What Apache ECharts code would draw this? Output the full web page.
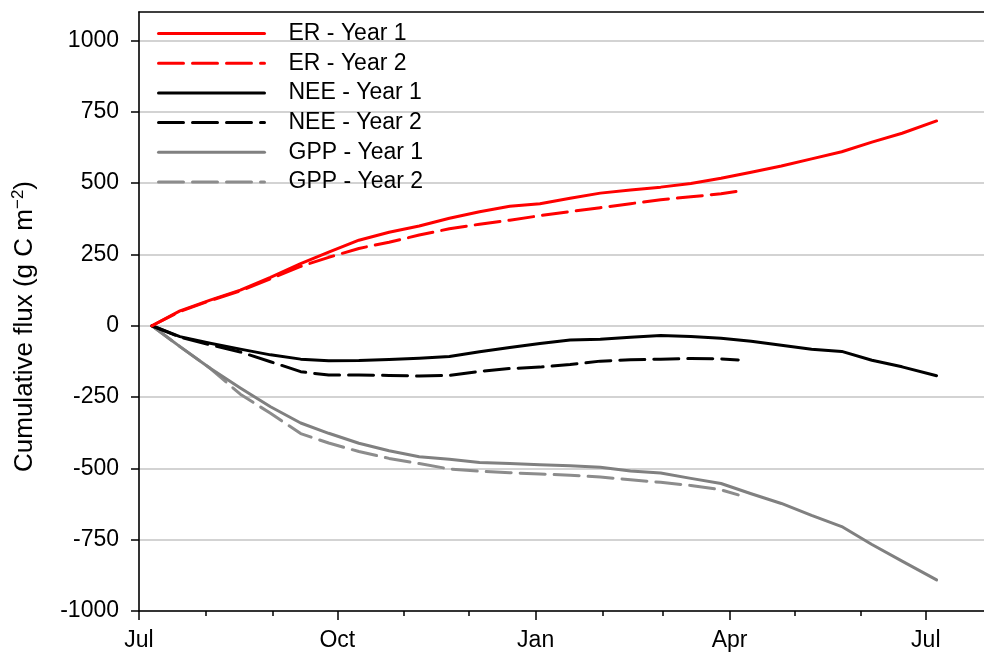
<!DOCTYPE html>
<html>
<head>
<meta charset="utf-8">
<script src="https://cdn.jsdelivr.net/npm/echarts@6/dist/echarts.min.js"></script>
<style>html,body{margin:0;padding:0;background:#fff}#c{width:984px;height:657px}</style>
</head>
<body>
<div id="c"></div>
<script>
// Days since 1 July (non-leap year)
const days1 = [6,19,33,47,61,75,88,102,116,130,144,158,172,186,200,214,228,242,256,270,284,298,312,326,340,354,370];
const days2 = [6,19,33,47,61,75,88,102,116,130,144,158,172,186,200,214,228,242,256,270,278];
const er1  = [0,52,90,125,170,218,258,300,328,350,377,400,419,428,447,465,476,486,499,517,538,560,585,610,644,675,718];
const er2  = [0,50,88,122,165,208,240,271,293,318,340,356,370,386,400,414,428,442,452,463,472];
const nee1 = [0,-38,-61,-82,-102,-117,-123,-122,-118,-114,-108,-91,-76,-62,-50,-47,-40,-34,-38,-44,-54,-68,-82,-90,-121,-144,-175];
const nee2 = [0,-40,-67,-92,-126,-161,-173,-173,-174,-176,-174,-160,-150,-145,-136,-124,-119,-117,-115,-116,-120];
const gpp1 = [0,-73,-149,-218,-284,-341,-377,-412,-438,-459,-468,-479,-483,-487,-491,-496,-509,-516,-535,-553,-589,-623,-665,-704,-767,-825,-891];
const gpp2 = [0,-73,-149,-240,-307,-378,-411,-441,-465,-483,-502,-510,-515,-520,-524,-530,-540,-549,-560,-575,-593];
// Axis ticks
const monthStarts = [0,31,62,92,123,153,184,215,243,274,304,335,365];
const quarterStarts = [0,92,184,274,365];
const quarterNames = ['Jul','Oct','Jan','Apr','Jul'];
const yTicks = [-1000,-750,-500,-250,0,250,500,750,1000];

const FONT = 'Liberation Sans, Arial, sans-serif';
const FS = 23;
const pairs = (d, v) => d.map((x, i) => [x, v[i]]);
const chart = echarts.init(document.getElementById('c'), null, {renderer: 'canvas'});
const X_MIN = 0, X_MAX = 392;

function mk(name, d, v, color, dashed) {
  return {
    name, type: 'line', data: pairs(d, v), symbol: 'none', showSymbol: false,
    xAxisIndex: 0, yAxisIndex: 0, animation: false,
    lineStyle: {color, width: 3, type: dashed ? [25, 9] : 'solid', cap: 'round', join: 'round'},
    itemStyle: {color}
  };
}

chart.setOption({
  animation: false,
  backgroundColor: '#fff',
  grid: {left: 139, right: 0, top: 12, bottom: 46, containLabel: false},
  legend: {
    orient: 'vertical', left: 157, top: 22, padding: 0,
    itemWidth: 106, itemHeight: 14, itemGap: 6.7,
    itemStyle: {opacity: 0},
    lineStyle: {width: 3},
    textStyle: {fontFamily: FONT, fontSize: FS, color: '#000', padding: [0,0,0,19]},
    data: ['ER - Year 1','ER - Year 2','NEE - Year 1','NEE - Year 2','GPP - Year 1','GPP - Year 2']
  },
  xAxis: [
    {
      type: 'value', min: X_MIN, max: X_MAX, position: 'bottom',
      axisLine: {show: true, onZero: false, lineStyle: {color: '#000', width: 1.6}},
      axisTick: {show: true, length: 5, customValues: monthStarts, lineStyle: {color: '#000', width: 1.5}},
      axisLabel: {show: false},
      splitLine: {show: false}
    },
    {
      type: 'value', min: X_MIN, max: X_MAX, position: 'bottom',
      axisLine: {show: false, onZero: false},
      axisTick: {show: true, length: 9, customValues: quarterStarts, lineStyle: {color: '#000', width: 1.5}},
      axisLabel: {
        show: true, customValues: quarterStarts, margin: 18,
        fontFamily: FONT, fontSize: FS, color: '#000',
        formatter: v => quarterNames[quarterStarts.indexOf(v)] || ''
      },
      splitLine: {show: false}
    },
    {
      type: 'value', min: X_MIN, max: X_MAX, position: 'top',
      axisLine: {show: true, onZero: false, lineStyle: {color: '#000', width: 1.6}},
      axisTick: {show: false}, axisLabel: {show: false}, splitLine: {show: false}
    }
  ],
  yAxis: {
    type: 'value', min: -1000, max: 1100,
    axisLine: {show: true, onZero: false, lineStyle: {color: '#000', width: 1.6}},
    axisTick: {show: true, length: 8, customValues: yTicks, lineStyle: {color: '#000', width: 1.5}},
    axisLabel: {customValues: yTicks, margin: 20, fontFamily: FONT, fontSize: FS, color: '#000',
      formatter: v => String(v)},
    splitLine: {show: true, lineStyle: {color: '#c4c4c4', width: 1.5}},
    name: '{a|Cumulative flux (g C m}{s|−2}{a|)}',
    nameLocation: 'middle', nameGap: 100, nameRotate: 90,
    nameTextStyle: {
      padding: [0, 30, 0, 0],
      rich: {
        a: {fontFamily: FONT, fontSize: 26, color: '#000'},
        s: {fontFamily: FONT, fontSize: 17, color: '#000', padding: [0,0,12,0]}
      }
    }
  },
  series: [
    mk('GPP - Year 2', days2, gpp2, '#8c8c8c', true),
    mk('GPP - Year 1', days1, gpp1, '#808080', false),
    mk('NEE - Year 2', days2, nee2, '#000000', true),
    mk('NEE - Year 1', days1, nee1, '#000000', false),
    mk('ER - Year 2', days2, er2, '#ff0000', true),
    mk('ER - Year 1', days1, er1, '#ff0000', false)
  ]
});
</script>
</body>
</html>
